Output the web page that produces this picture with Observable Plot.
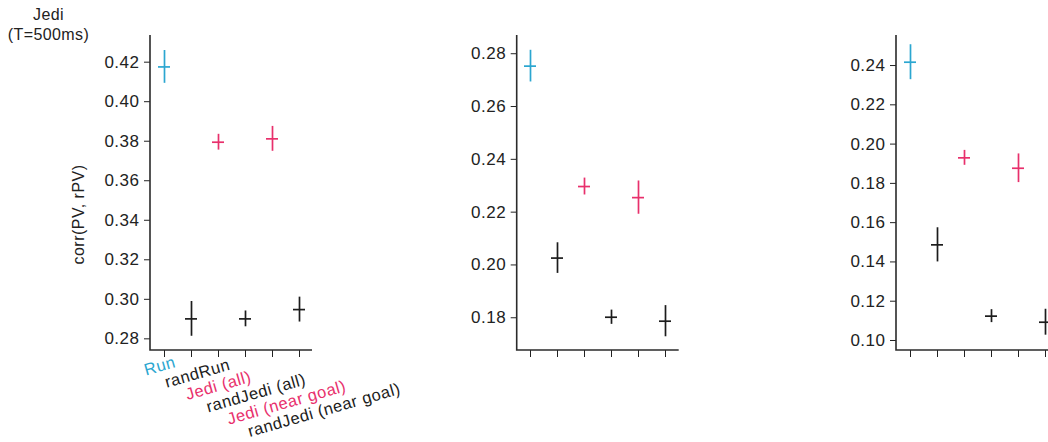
<!DOCTYPE html>
<html><head><meta charset="utf-8">
<script src="https://cdn.jsdelivr.net/npm/d3@7"></script>
<script src="https://cdn.jsdelivr.net/npm/@observablehq/plot@0.6"></script>
<style>
html,body{margin:0;padding:0;background:#fff;overflow:hidden;width:1048px;height:442px;}
#wrap{position:relative;width:1048px;height:442px;overflow:hidden;font-family:Arial,"Liberation Sans",Helvetica,sans-serif;}
.panel{position:absolute;top:0;}
.panel svg{overflow:visible;max-width:none !important;}
#title{position:absolute;left:0;top:5px;width:97px;text-align:center;font-size:16px;line-height:20px;letter-spacing:0.4px;color:#222;}
</style></head><body>
<div id="wrap"><div id="title">Jedi<br>(T=500ms)</div></div>
<script>
const categories = ["Run", "randRun", "Jedi (all)", "randJedi (all)", "Jedi (near goal)", "randJedi (near goal)"];
const groups = ["run", "rand", "jedi", "rand", "jedi", "rand"];
const groupColors = {run: "#2ba6d0", jedi: "#e8306c", rand: "#1c1c1c"};

const panel1Mean = [0.4176, 0.2901, 0.3795, 0.2901, 0.3812, 0.2948];
const panel1Err  = [0.0083, 0.0088, 0.0040, 0.0040, 0.0063, 0.0063];
const panel2Mean = [0.2753, 0.2026, 0.2297, 0.1802, 0.2255, 0.1787];
const panel2Err  = [0.0060, 0.0058, 0.0032, 0.0027, 0.0063, 0.0059];
const panel3Mean = [0.2417, 0.1487, 0.1930, 0.1124, 0.1877, 0.1093];
const panel3Err  = [0.0089, 0.0087, 0.0038, 0.0033, 0.0073, 0.0066];

const panel1Ticks = [0.28, 0.30, 0.32, 0.34, 0.36, 0.38, 0.40, 0.42];
const panel2Ticks = [0.18, 0.20, 0.22, 0.24, 0.26, 0.28];
const panel3Ticks = [0.10, 0.12, 0.14, 0.16, 0.18, 0.20, 0.22, 0.24];

const panel1Domain = [0.2741, 0.4335];
const panel2Domain = [0.1676, 0.2869];
const panel3Domain = [0.0949, 0.2553];

const yLabel = "corr(PV, rPV)";

const FONT = 'Arial, "Liberation Sans", Helvetica, sans-serif';
const INK = "#222";

function axisLines(index, scales, values, dims) {
  const {width, height, marginLeft, marginRight, marginTop, marginBottom} = dims;
  const y0 = height - marginBottom;
  return d3.create("svg:path")
    .attr("d", `M${marginLeft},${marginTop}V${y0}H${width - marginRight}`)
    .attr("fill", "none")
    .attr("stroke", "#2b2b2b")
    .attr("stroke-width", 1.6)
    .node();
}

function panel({mean, err, ticks, domain, left, marginLeft, width, withLabels}) {
  const data = categories.map((c, i) => ({
    cat: c, group: groups[i], m: mean[i], lo: mean[i] - err[i], hi: mean[i] + err[i]
  }));
  const marks = [
    Plot.axisY({ticks, tickSize: 6, tickPadding: 5, tickFormat: d3.format(".2f"), label: null, fontSize: 17}),
    Plot.axisX({tickSize: 7, tickFormat: () => "", label: null}),
    axisLines,
    Plot.ruleX(data, {x: "cat", y1: "lo", y2: "hi", stroke: d => groupColors[d.group], strokeWidth: 1.7}),
    Plot.tickY(data, {x: "cat", y: "m", stroke: d => groupColors[d.group], strokeWidth: 1.7})
  ];
  if (withLabels) {
    categories.forEach((c, i) => {
      marks.push(Plot.text([c], {
        x: d => d, frameAnchor: "bottom", text: d => d,
        rotate: -16, textAnchor: "start", lineAnchor: "bottom",
        dx: -18.4 - 6.25 * i, dy: 25 + 12.3 * i,
        fill: groupColors[groups[i]], fontSize: 16.5
      }));
    });
    marks.push(Plot.text([yLabel], {
      frameAnchor: "left", text: d => d, rotate: -90, textAnchor: "middle", lineAnchor: "bottom",
      dx: -67, dy: 21.5, fill: INK, fontSize: 16
    }));
  }
  const chart = Plot.plot({
    width, height: 442,
    marginLeft, marginRight: width - marginLeft - 162, marginTop: 35, marginBottom: 92,
    style: {fontFamily: FONT, fontSize: "16px", color: INK, background: "transparent", overflow: "visible"},
    x: {type: "band", domain: categories, paddingInner: 0.56, paddingOuter: 0.247},
    y: {domain, ticks},
    marks
  });
  const div = document.createElement("div");
  div.className = "panel";
  div.style.left = left + "px";
  div.style.width = width + "px";
  div.appendChild(chart);
  document.getElementById("wrap").appendChild(div);
  return chart;
}

panel({mean: panel1Mean, err: panel1Err, ticks: panel1Ticks, domain: panel1Domain, left: 0, marginLeft: 150, width: 420, withLabels: true});
panel({mean: panel2Mean, err: panel2Err, ticks: panel2Ticks, domain: panel2Domain, left: 420, marginLeft: 96.7, width: 360, withLabels: false});
panel({mean: panel3Mean, err: panel3Err, ticks: panel3Ticks, domain: panel3Domain, left: 780, marginLeft: 116, width: 300, withLabels: false});

d3.selectAll(".panel text").style("letter-spacing", "0.5px");
</script>
</body></html>
